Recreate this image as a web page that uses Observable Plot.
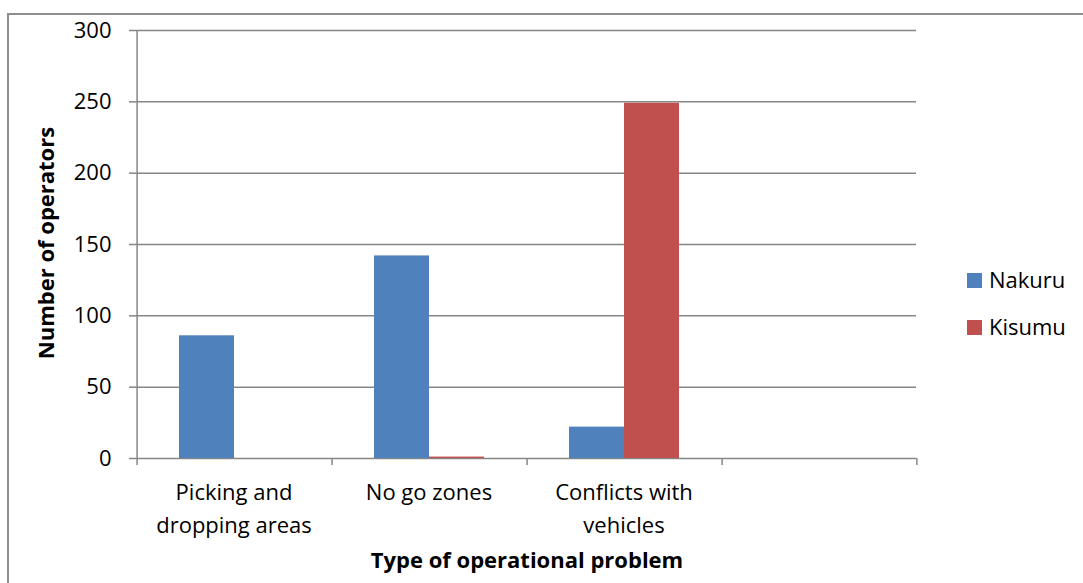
<!DOCTYPE html>
<html><head><meta charset="utf-8">
<script src="https://cdn.jsdelivr.net/npm/d3@7"></script>
<script src="https://cdn.jsdelivr.net/npm/@observablehq/plot@0.6"></script>
<style>
html,body{margin:0;padding:0;background:#fff;overflow:hidden;}
#wrap{position:relative;width:1083px;height:583px;font-family:"Open Sans",sans-serif;color:#000;}
#chart{position:absolute;left:0;top:0;}
#border{position:absolute;left:7px;top:13px;width:1200px;height:800px;border:2px solid #8e8e8e;pointer-events:none;}
.title{position:absolute;font-weight:bold;font-size:22px;line-height:22px;white-space:nowrap;text-align:center;}
#xtitle{left:227px;top:548px;width:600px;}
#ytitle{left:-105px;top:232px;width:300px;transform:rotate(-90deg);}
.leg{position:absolute;left:967px;font-size:22px;line-height:22px;white-space:nowrap;}
.leg span.sw{display:inline-block;width:15px;height:15px;vertical-align:middle;margin-right:7px;position:relative;top:-2px;}
</style></head><body>
<div id="wrap">
  <div id="chart"></div>
  <div id="border"></div>
  <div class="title" id="ytitle">Number of operators</div>
  <div class="title" id="xtitle">Type of operational problem</div>
  <div id="legend"></div>
</div>
<script>
const categories = ["Picking and\ndropping areas", "No go zones", "Conflicts with\nvehicles", ""];
const seriesNames = ["Nakuru", "Kisumu"];
const nakuru = [86, 142, 22, null];
const kisumu = [0, 1, 249, null];
const yTicks = [0, 50, 100, 150, 200, 250, 300];
const colors = ["#4F81BD", "#C0504D"];

const rows = [];
categories.forEach((c, i) => {
  rows.push({cat: c, series: "Nakuru", value: nakuru[i]});
  rows.push({cat: c, series: "Kisumu", value: kisumu[i]});
});
const boundaryRows = categories.map((c, i) => ({cat: c, top: i === 0 ? 300 : 0}));
const gray = "#868686";

const chart = Plot.plot({
  width: 1083, height: 583,
  marginLeft: 134, marginRight: 166, marginTop: 30, marginBottom: 125,
  style: {fontFamily: '"Open Sans", sans-serif', fontSize: "22px", background: "transparent", color: "#000"},
  fx: {domain: categories, padding: 0, label: null},
  x: {domain: seriesNames, paddingInner: 0, paddingOuter: 0.75, axis: null},
  y: {domain: [0, 300]},
  color: {domain: seriesNames, range: colors},
  marks: [
    Plot.ruleY(yTicks, {stroke: gray, strokeWidth: 1.5}),
    Plot.ruleX(boundaryRows, {fx: "cat", x: d => seriesNames[0], y1: -4.9, y2: "top", dx: -69.9, stroke: gray, strokeWidth: 1.5}),
    Plot.ruleX([{cat: categories[3]}], {fx: "cat", x: d => seriesNames[1], y1: -4.9, y2: 0, dx: 69.9, stroke: gray, strokeWidth: 1.5}),
    Plot.barY(rows.filter(r => r.value != null), {fx: "cat", x: "series", y: "value", fill: "series"}),
    Plot.axisY({ticks: yTicks, tickSize: 7, tickPadding: 18, stroke: gray, strokeWidth: 1.5, fill: "#000", fontSize: 22, label: null}),
    Plot.axisFx({anchor: "bottom", tickSize: 0, tickPadding: 18, fontSize: 22, lineHeight: 1.5, fill: "#000", label: null})
  ]
});
document.getElementById("chart").appendChild(chart);

const legend = document.getElementById("legend");
seriesNames.forEach((s, i) => {
  const d = document.createElement("div");
  d.className = "leg";
  d.style.top = (268 + i * 47) + "px";
  d.innerHTML = `<span class="sw" style="background:${colors[i]}"></span>${s}`;
  legend.appendChild(d);
});
</script>
</body></html>
